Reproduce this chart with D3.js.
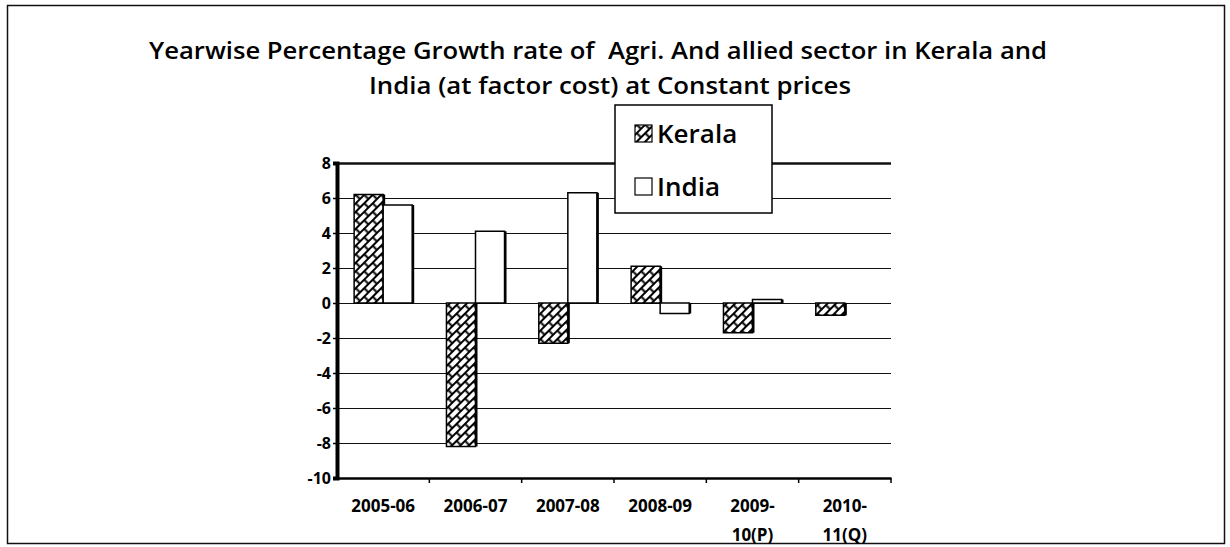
<!DOCTYPE html>
<html>
<head>
<meta charset="utf-8">
<script src="https://cdn.jsdelivr.net/npm/d3@7"></script>
<style>
  body { margin: 0; background: #fff; }
  svg { display: block; }
  .title { white-space: pre; }
</style>
</head>
<body>
<div id="chart"></div>
<script>
// data
const years = ["2005-06", "2006-07", "2007-08", "2008-09", "2009-10(P)", "2010-11(Q)"];
const yearLines = [["2005-06"], ["2006-07"], ["2007-08"], ["2008-09"], ["2009-", "10(P)"], ["2010-", "11(Q)"]];
const series = ["Kerala", "India"];
const kerala = [6.2, -8.2, -2.3, 2.1, -1.7, -0.7];
const india = [5.6, 4.1, 6.3, -0.6, 0.2, 0];
const yTicks = [8, 6, 4, 2, 0, -2, -4, -6, -8, -10];
const titleLines = [
    "Yearwise Percentage Growth rate of  Agri. And allied sector in Kerala and",
    "India (at factor cost) at Constant prices"
];

const width = 1230;
const height = 547;

const plot = { left: 337, right: 891, top: 163, bottom: 478 };

const svg = d3.select("#chart")
    .append("svg")
    .attr("width", width)
    .attr("height", height);

// hatch pattern for Kerala (diagonal bricks)
const defs = svg.append("defs");
const pat = defs.append("pattern")
    .attr("id", "brick")
    .attr("patternUnits", "userSpaceOnUse")
    .attr("width", 12)
    .attr("height", 12)
    .attr("patternTransform", "rotate(-45)");
pat.append("rect").attr("width", 12).attr("height", 12).attr("fill", "#fff");
pat.append("path")
    .attr("d", "M0,1H12M0,7H12M1.5,1V7M7.5,7V13")
    .attr("stroke", "#000")
    .attr("stroke-width", 2)
    .attr("fill", "none");

// outer frame
svg.append("rect")
    .attr("x", 7.5)
    .attr("y", 5.5)
    .attr("width", 1217)
    .attr("height", 538)
    .attr("fill", "none")
    .attr("stroke", "#111")
    .attr("stroke-width", 1.5);

// title
svg.selectAll("text.title")
    .data(titleLines)
    .join("text")
    .attr("class", "title")
    .attr("x", (d, i) => i === 0 ? 598 : 610)
    .attr("y", (d, i) => 59 + i * 35)
    .attr("text-anchor", "middle")
    .attr("font-family", "Open Sans, sans-serif")
    .attr("font-weight", 600)
    .attr("font-size", "24px")
    .attr("fill", "#000")
    .attr("textLength", (d, i) => i === 0 ? 898 : 482)
    .attr("lengthAdjust", "spacingAndGlyphs")
    .text(d => d);

const x0 = d3.scaleBand()
    .domain(years)
    .range([plot.left, plot.right])
    .paddingInner(0)
    .paddingOuter(0);

const x1 = d3.scaleBand()
    .domain(series)
    .range([0, x0.bandwidth()])
    .paddingInner(0)
    .paddingOuter(0.59);

const y = d3.scaleLinear()
    .domain([-10, 8])
    .range([plot.bottom, plot.top]);

// gridlines
svg.append("g")
    .selectAll("line")
    .data(yTicks.filter(d => d > -10))
    .join("line")
    .attr("x1", plot.left)
    .attr("x2", plot.right)
    .attr("y1", d => Math.round(y(d)) + 0.5)
    .attr("y2", d => Math.round(y(d)) + 0.5)
    .attr("stroke", "#111")
    .attr("stroke-width", d => d === 8 ? 2.5 : 1.2);

// bars
const rows = years.map((yr, i) => ({ year: yr, Kerala: kerala[i], India: india[i] }));

const groups = svg.append("g")
    .selectAll("g")
    .data(rows)
    .join("g")
    .attr("transform", d => `translate(${x0(d.year)},0)`);

const bars = groups.selectAll("g.bar")
    .data(d => series.map(s => ({ key: s, value: d[s] })))
    .join("g")
    .attr("class", "bar")
    .filter(d => d.value !== 0);

// shadow on the right edge
bars.append("rect")
    .attr("x", d => x1(d.key) + x1.bandwidth() - 2)
    .attr("y", d => y(Math.max(0, d.value)))
    .attr("width", 4)
    .attr("height", d => Math.abs(y(d.value) - y(0)))
    .attr("fill", "#000");

bars.append("rect")
    .attr("x", d => x1(d.key))
    .attr("y", d => y(Math.max(0, d.value)))
    .attr("width", x1.bandwidth())
    .attr("height", d => Math.abs(y(d.value) - y(0)))
    .attr("fill", d => d.key === "Kerala" ? "url(#brick)" : "#fff")
    .attr("stroke", "#000")
    .attr("stroke-width", 1.5);

// y axis
const yAxis = d3.axisLeft(y)
    .tickValues(yTicks)
    .tickFormat(d => String(d))
    .tickSize(4)
    .tickPadding(2);

const yg = svg.append("g")
    .attr("transform", `translate(${plot.left},0)`)
    .call(yAxis);

yg.select(".domain").attr("stroke", "#000").attr("stroke-width", 4);
yg.selectAll(".tick line").attr("stroke", "#000").attr("stroke-width", 1.5);
yg.selectAll(".tick text")
    .attr("font-family", "Open Sans, sans-serif")
    .attr("font-weight", 700)
    .attr("font-size", "16px")
    .attr("fill", "#000");

// x axis
const xAxis = d3.axisBottom(x0)
    .tickSize(0)
    .tickFormat("");

const xg = svg.append("g")
    .attr("transform", `translate(0,${plot.bottom})`)
    .call(xAxis);

xg.select(".domain").attr("stroke", "#000").attr("stroke-width", 2.5);

// small tick marks at category boundaries
xg.selectAll("line.sep")
    .data(years)
    .join("line")
    .attr("class", "sep")
    .attr("x1", (d, i) => plot.left + x0.step() * (i + 1))
    .attr("x2", (d, i) => plot.left + x0.step() * (i + 1))
    .attr("y1", 0)
    .attr("y2", 5)
    .attr("stroke", "#000")
    .attr("stroke-width", 1.5);

// category labels, some over two lines
svg.append("g")
    .selectAll("text")
    .data(years)
    .join("text")
    .attr("x", d => x0(d) + x0.bandwidth() / 2)
    .attr("y", 512)
    .attr("text-anchor", "middle")
    .attr("font-family", "Open Sans, sans-serif")
    .attr("font-weight", 700)
    .attr("font-size", "17px")
    .attr("fill", "#000")
    .selectAll("tspan")
    .data((d, i) => yearLines[i])
    .join("tspan")
    .attr("x", function () { return d3.select(this.parentNode).attr("x"); })
    .attr("dy", (d, i) => i === 0 ? 0 : 29)
    .text(d => d);

// legend
const legend = svg.append("g").attr("transform", "translate(615,105)");

legend.append("rect")
    .attr("width", 157)
    .attr("height", 108)
    .attr("fill", "#fff")
    .attr("stroke", "#000")
    .attr("stroke-width", 1.5);

const items = legend.selectAll("g")
    .data(series)
    .join("g")
    .attr("transform", (d, i) => `translate(20,${20 + i * 53})`);

items.append("rect")
    .attr("width", 17)
    .attr("height", 17)
    .attr("fill", d => d === "Kerala" ? "url(#brick)" : "#fff")
    .attr("stroke", "#000")
    .attr("stroke-width", 1.2);

items.append("text")
    .attr("x", 22)
    .attr("y", 9)
    .attr("dy", "0.35em")
    .attr("font-family", "Open Sans, sans-serif")
    .attr("font-weight", 600)
    .attr("font-size", "26px")
    .attr("fill", "#000")
    .text(d => d);
</script>
</body>
</html>
